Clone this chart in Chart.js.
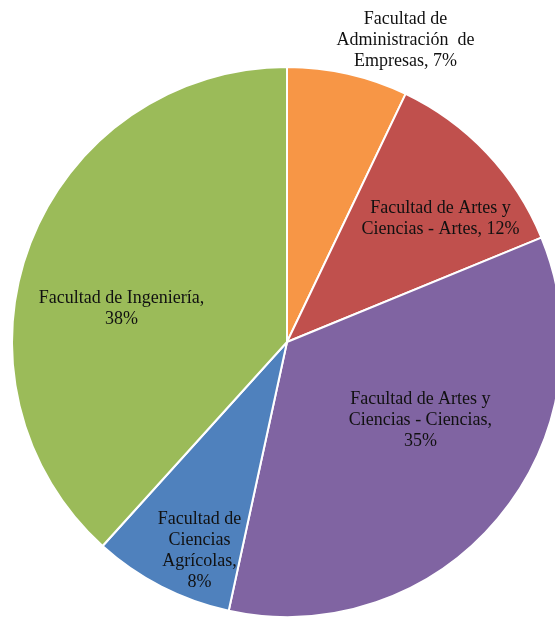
<!DOCTYPE html>
<html>
<head>
<meta charset="utf-8">
<script src="https://cdn.jsdelivr.net/npm/chart.js@4"></script>
<style>
  html, body { margin: 0; padding: 0; background: #fff; overflow: hidden; }
  #wrap { position: absolute; left: 0; top: 0; width: 574px; height: 618px; }
</style>
</head>
<body>
<div id="wrap"><canvas id="graphique"></canvas></div>
<script>
// datos
const facultades = [
    ['Facultad de', 'Administración  de', 'Empresas, 7%'],
    ['Facultad de Artes y', 'Ciencias - Artes, 12%'],
    ['Facultad de Artes y', 'Ciencias - Ciencias,', '35%'],
    ['Facultad de', 'Ciencias', 'Agrícolas,', '8%'],
    ['Facultad de Ingeniería,', '38%']
];
const porcentajes = [7.1, 11.7, 34.6, 8.3, 38.3];
const colores = ['#F79646', '#C0504D', '#8064A2', '#4F81BD', '#9BBB59'];

// posicion de las etiquetas, en fracciones del radio desde el centro
const posEtiquetas = [[0.431, -1.099], [0.558, -0.449], [0.485, 0.285], [-0.318, 0.759], [-0.602, -0.120]];

const etiquetas = {
    id: 'etiquetas',
    afterDatasetsDraw(chart) {
        const ctx = chart.ctx;
        const meta = chart.getDatasetMeta(0);
        ctx.save();
        ctx.font = '18px "Liberation Serif", "Times New Roman", serif';
        ctx.fillStyle = '#111';
        ctx.textAlign = 'center';
        ctx.textBaseline = 'middle';
        meta.data.forEach((arc, i) => {
            const r = arc.outerRadius;
            const cx = arc.x + posEtiquetas[i][0] * r;
            const cy = arc.y + posEtiquetas[i][1] * r;
            const lignes = facultades[i];
            const lh = 21;
            lignes.forEach((t, j) => {
                ctx.fillText(t, cx, cy + (j - (lignes.length - 1) / 2) * lh);
            });
        });
        ctx.restore();
    }
};

const graph = document.getElementById('graphique');
new Chart(graph, {
    type: 'pie',
    data: {
        labels: facultades.map(l => l.join(' ')),
        datasets: [{
            data: porcentajes,
            backgroundColor: colores,
            borderColor: '#fff',
            borderWidth: 2
        }]
    },
    options: {
        responsive: true,
        maintainAspectRatio: false,
        animation: false,
        layout: { padding: { top: 66, bottom: 0 } },
        plugins: {
            legend: { display: false },
            tooltip: { enabled: false }
        }
    },
    plugins: [etiquetas]
});
</script>
</body>
</html>
